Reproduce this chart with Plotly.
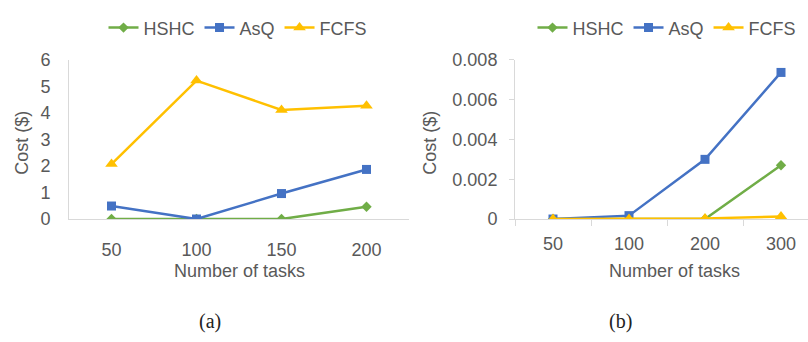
import plotly.graph_objects as go

# Task counts (categories) for the two experiments
tasks_a = ["50", "100", "150", "200"]
tasks_b = ["50", "100", "200", "300"]

# Cost ($) per scheduler, experiment (a)
hshc_a = [0.0, 0.0, 0.0, 0.46]
asq_a = [0.49, 0.0, 0.96, 1.87]
fcfs_a = [2.07, 5.22, 4.11, 4.27]

# Cost ($) per scheduler, experiment (b)
hshc_b = [0.0, 0.0, 0.0, 0.0027]
asq_b = [0.0, 0.00017, 0.003, 0.00737]
fcfs_b = [0.0, 0.0, 0.00003, 0.00013]

GREEN = "#70AD47"
BLUE = "#4472C4"
GOLD = "#FFC000"
TEXT = "#595959"
AXIS = "#D9D9D9"
FONT = "Liberation Sans, Arial, sans-serif"

W, H = 808, 342

fig = go.Figure()

series = [
    ("HSHC", GREEN, "diamond", 8),
    ("AsQ", BLUE, "square", 9),
    ("FCFS", GOLD, "triangle-up", 11),
]
data_a = [hshc_a, asq_a, fcfs_a]
data_b = [hshc_b, asq_b, fcfs_b]

for (name, color, symbol, size), ya in zip(series, data_a):
    fig.add_trace(go.Scatter(
        x=tasks_a, y=ya, name=name, mode="lines+markers",
        line=dict(color=color, width=2.5),
        marker=dict(symbol=symbol, size=size, color=color),
        xaxis="x", yaxis="y", legend="legend",
    ))

for (name, color, symbol, size), yb in zip(series, data_b):
    fig.add_trace(go.Scatter(
        x=tasks_b, y=yb, name=name, mode="lines+markers",
        line=dict(color=color, width=2.5),
        marker=dict(symbol=symbol, size=size, color=color),
        xaxis="x2", yaxis="y2", legend="legend2",
    ))

ydom = [(H - 222) / H, (H - 53) / H]

axis_common = dict(
    showgrid=False, zeroline=False, showline=True, linecolor=AXIS, linewidth=1,
    tickfont=dict(family=FONT, size=18, color=TEXT),
)

fig.update_layout(
    width=W, height=H,
    margin=dict(l=0, r=0, t=0, b=0),
    paper_bgcolor="white", plot_bgcolor="white",
    showlegend=True,
    xaxis=dict(domain=[69 / W, 409 / W], type="category", range=[-0.5, 3.5],
               ticks="", ticklabelstandoff=14, anchor="y", **axis_common),
    yaxis=dict(domain=ydom, range=[0, 6], dtick=1, ticks="",
               ticklabelstandoff=14, anchor="x", **axis_common),
    xaxis2=dict(domain=[515 / W, 1.0], type="category",
                range=[-0.5, 3.5 - 11 / 76], ticks="outside", ticklen=6,
                tickcolor=AXIS, tickson="boundaries", ticklabelstandoff=8,
                anchor="y2", **axis_common),
    yaxis2=dict(domain=ydom, range=[0, 0.008], dtick=0.002, ticks="outside",
                ticklen=5, tickcolor=AXIS, ticklabelstandoff=8,
                tickformat="~g", anchor="x2", **axis_common),
    legend=dict(orientation="h", x=238 / W, xanchor="center", y=1 - 19 / H,
                yanchor="middle", font=dict(family=FONT, size=18, color=TEXT),
                bgcolor="rgba(0,0,0,0)", itemwidth=30, tracegroupgap=0),
    legend2=dict(orientation="h", x=667 / W, xanchor="center", y=1 - 19 / H,
                 yanchor="middle", font=dict(family=FONT, size=18, color=TEXT),
                 bgcolor="rgba(0,0,0,0)", itemwidth=30, tracegroupgap=0),
)

title_font = dict(family=FONT, size=18, color=TEXT)
caption_font = dict(family="Liberation Serif, DejaVu Serif, serif", size=20, color="#222222")

annotations = [
    dict(text="Cost ($)", x=22 / W, y=1 - 141 / H, textangle=-90, font=title_font),
    dict(text="Cost ($)", x=430 / W, y=1 - 141 / H, textangle=-90, font=title_font),
    dict(text="Number of tasks", x=239 / W, y=1 - 277 / H, font=title_font),
    dict(text="Number of tasks", x=674 / W, y=1 - 277 / H, font=title_font),
    dict(text="(a)", x=210 / W, y=1 - 331 / H, font=caption_font),
    dict(text="(b)", x=620 / W, y=1 - 331 / H, font=caption_font),
]
for a in annotations:
    fig.add_annotation(xref="paper", yref="paper", xanchor="center",
                       yanchor="middle", showarrow=False, **a)

fig.write_html("out.html")
